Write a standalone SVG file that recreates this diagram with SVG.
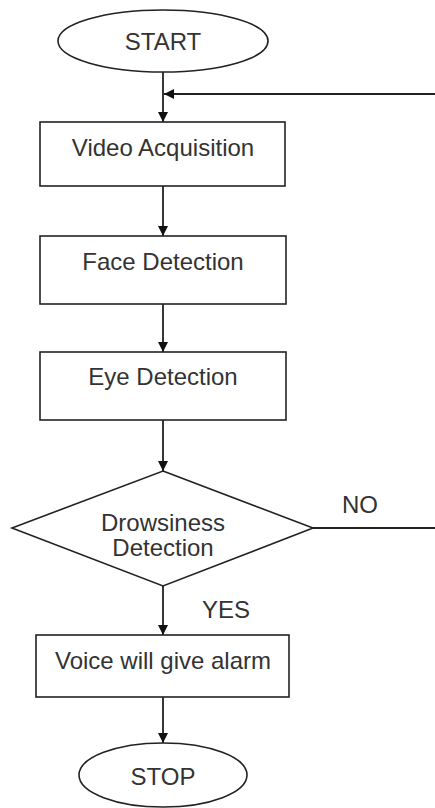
<svg xmlns="http://www.w3.org/2000/svg" width="435" height="808" viewBox="0 0 435 808">
<defs>
<marker id="ah" viewBox="0 0 10 10" refX="10" refY="5" markerWidth="10" markerHeight="10" markerUnits="userSpaceOnUse" orient="auto">
<path d="M0,0 L10,5 L0,10 z" fill="#111"/>
</marker>
<style>
.shape{fill:#fff;stroke:#222;stroke-width:1.6}
.conn{fill:none;stroke:#222;stroke-width:1.8}
text{font-family:"Liberation Sans",Arial,sans-serif;font-size:24px;fill:#333;text-anchor:middle;dominant-baseline:central}
</style>
</defs>
<rect width="435" height="808" fill="#fff"/>
<g id="connectors">
<line class="conn" x1="163" y1="72" x2="163" y2="122" marker-end="url(#ah)"/>
<line class="conn" x1="435" y1="94" x2="164" y2="94" marker-end="url(#ah)"/>
<line class="conn" x1="163" y1="186" x2="163" y2="236" marker-end="url(#ah)"/>
<line class="conn" x1="163" y1="304" x2="163" y2="352" marker-end="url(#ah)"/>
<line class="conn" x1="163" y1="420" x2="163" y2="471" marker-end="url(#ah)"/>
<line class="conn" x1="163" y1="586" x2="163" y2="635" marker-end="url(#ah)"/>
<line class="conn" x1="313" y1="528" x2="435" y2="528"/>
<line class="conn" x1="163" y1="697" x2="163" y2="743" marker-end="url(#ah)"/>
<text x="360" y="504">NO</text>
<text x="226" y="609">YES</text>
</g>
<g id="start">
<ellipse class="shape" cx="163" cy="41" rx="105" ry="31"/>
<text x="163" y="41">START</text>
</g>
<g id="video">
<rect class="shape" x="40" y="122" width="245" height="64"/>
<text x="163" y="147">Video Acquisition</text>
</g>
<g id="face">
<rect class="shape" x="40" y="236" width="246" height="68"/>
<text x="163" y="261">Face Detection</text>
</g>
<g id="eye">
<rect class="shape" x="40" y="352" width="246" height="68"/>
<text x="163" y="376">Eye Detection</text>
</g>
<g id="drowsiness">
<polygon class="shape" points="163,471 313,528 163,586 12,528"/>
<text x="163" y="522">Drowsiness</text>
<text x="163" y="547">Detection</text>
</g>
<g id="alarm">
<rect class="shape" x="36" y="635" width="253" height="62"/>
<text x="163" y="660">Voice will give alarm</text>
</g>
<g id="stop">
<ellipse class="shape" cx="163" cy="775" rx="84" ry="32"/>
<text x="163" y="776">STOP</text>
</g>
</svg>
